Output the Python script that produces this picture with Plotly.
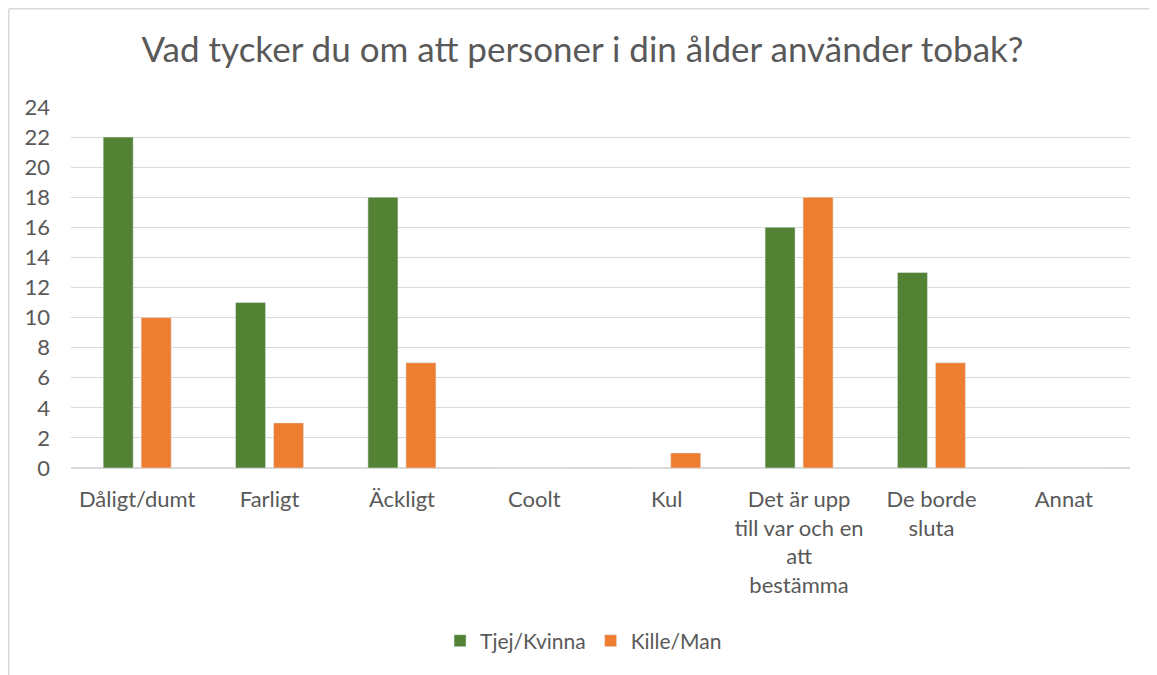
import plotly.graph_objects as go

categories = ["Dåligt/dumt", "Farligt", "Äckligt", "Coolt", "Kul",
              "Det är upp<br>till var och en<br>att<br>bestämma", "De borde<br>sluta", "Annat"]
tjej = [22, 11, 18, 0, 0, 16, 13, 0]
kille = [10, 3, 7, 0, 1, 18, 7, 0]
y_ticks = list(range(0, 25, 2))

FONT = "Lato, 'Open Sans', sans-serif"
TXT = "#595959"

fig = go.Figure()
fig.add_trace(go.Bar(x=categories, y=tjej, name="Tjej/Kvinna", marker_color="#548235"))
fig.add_trace(go.Bar(x=categories, y=kille, name="Kille/Man", marker_color="#ED7D31"))

OFF = 8  # page body margin
W, H = 1157 - OFF, 675 - OFF
L, R, T, B = 71 - OFF, 1130 - OFF, 107 - OFF, 468 - OFF
pw, ph = R - L, B - T

def px_x(x):
    return (x - OFF - L) / pw

def px_y(y):
    return (B - (y - OFF)) / ph

fig.update_layout(
    width=W, height=H,
    margin=dict(l=L, r=W - R, t=T, b=H - B),
    paper_bgcolor="white", plot_bgcolor="white",
    font=dict(family=FONT, color=TXT, size=22),
    title=dict(text="Vad tycker du om att personer i din ålder använder tobak?",
               x=0.5, xanchor="center", y=1 - (50 - OFF) / H, yanchor="middle",
               font=dict(size=35, color=TXT, family=FONT)),
    barmode="group", bargap=0.426, bargroupgap=0.21,
    showlegend=True,
    legend=dict(orientation="h", x=0.484, xanchor="center", y=px_y(641), yanchor="middle",
                font=dict(size=21, color=TXT), itemwidth=30, traceorder="normal"),
    xaxis=dict(showgrid=False, showline=False, ticks="", tickfont=dict(size=22, color=TXT),
               ticklabelstandoff=16),
    yaxis=dict(range=[0, 24], tickvals=y_ticks, showgrid=True, gridcolor="#d9d9d9",
               gridwidth=1.3, zeroline=True, zerolinecolor="#d9d9d9", zerolinewidth=1.5,
               showline=False, ticks="", tickfont=dict(size=22, color=TXT),
               ticklabelstandoff=20),
    shapes=[
        dict(type="line", xref="paper", yref="paper", x0=px_x(8.8), x1=px_x(1160),
             y0=px_y(8.8), y1=px_y(8.8), line=dict(color="#d9d9d9", width=1.5)),
        dict(type="line", xref="paper", yref="paper", x0=px_x(8.8), x1=px_x(8.8),
             y0=px_y(8.8), y1=px_y(680), line=dict(color="#d9d9d9", width=1.5)),
    ],
)

fig.write_html("out.html")
